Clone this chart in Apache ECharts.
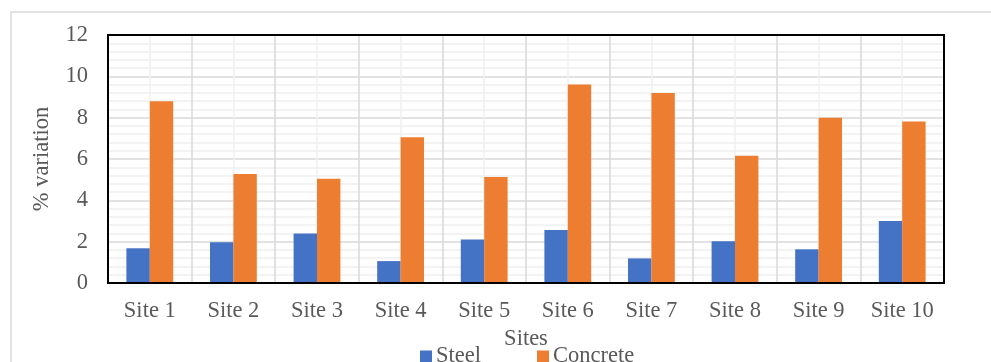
<!DOCTYPE html>
<html>
<head>
<meta charset="utf-8">
<script src="https://cdn.jsdelivr.net/npm/echarts@6/dist/echarts.min.js"></script>
<style>
  html, body { margin: 0; padding: 0; background: #fff; }
  #chart { width: 991px; height: 362px; }
</style>
</head>
<body>
<div id="chart"></div>
<script>
const sites = ['Site 1', 'Site 2', 'Site 3', 'Site 4', 'Site 5', 'Site 6', 'Site 7', 'Site 8', 'Site 9', 'Site 10'];
const steel = [1.68, 1.97, 2.39, 1.06, 2.11, 2.56, 1.19, 2.02, 1.63, 3.0];
const concrete = [8.8, 5.27, 5.05, 7.05, 5.13, 9.61, 9.19, 6.16, 8.0, 7.82];

const font = 'Liberation Serif, Times New Roman, serif';
const textColor = '#595959';
const fontSize = 22.5;

const chart = echarts.init(document.getElementById('chart'));

chart.setOption({
    backgroundColor: '#fff',
    animation: false,
    textStyle: { fontFamily: font, color: textColor },
    graphic: [{
        // outer chart frame
        type: 'rect',
        shape: { x: 11, y: 12, width: 1000, height: 400 },
        style: { fill: 'none', stroke: '#d9d9d9', lineWidth: 1.5 },
        silent: true
    }, {
        // plot area frame, drawn above the grid lines
        type: 'rect',
        z: 100,
        shape: { x: 108, y: 35, width: 836, height: 248 },
        style: { fill: 'none', stroke: '#000', lineWidth: 2 },
        silent: true
    }],
    grid: {
        left: 108, right: 47, top: 35, bottom: 79
    },
    legend: {
        left: 415, top: 340,
        icon: 'rect', itemWidth: 12, itemHeight: 12, itemGap: 56,
        textStyle: { fontFamily: font, fontSize: fontSize, color: textColor, padding: [0, 0, 0, -1] },
        data: ['Steel', 'Concrete']
    },
    xAxis: [{
        type: 'category',
        data: sites,
        name: 'Sites',
        nameLocation: 'middle',
        nameGap: 38,
        nameTextStyle: { fontFamily: font, fontSize: fontSize, color: textColor },
        axisLine: { lineStyle: { color: '#000', width: 2 } },
        axisTick: { show: false },
        axisLabel: { fontFamily: font, fontSize: fontSize, color: textColor, margin: 17 },
        splitLine: { show: false }
    }, {
        // helper axis for vertical grid lines at category edges and centres
        type: 'value',
        min: 0, max: 20, interval: 1,
        show: true,
        position: 'top',
        axisLine: { show: false },
        axisTick: { show: false },
        axisLabel: { show: false },
        splitLine: { show: true, lineStyle: { color: ['#d9d9d9', '#f0f0f0'], width: 1.5 } }
    }],
    yAxis: {
        type: 'value',
        min: 0, max: 12, interval: 2,
        name: '% variation',
        nameLocation: 'middle',
        nameGap: 54,
        nameTextStyle: { fontFamily: font, fontSize: fontSize, color: textColor },
        axisLine: { show: false },
        axisTick: { show: false },
        axisLabel: { fontFamily: font, fontSize: fontSize, color: textColor, margin: 20 },
        splitLine: { lineStyle: { color: '#d9d9d9', width: 1.5 } },
        minorTick: { show: false, splitNumber: 5 },
        minorSplitLine: { show: true, lineStyle: { color: '#f0f0f0', width: 1.5 } }
    },
    series: [{
        name: 'Steel',
        type: 'bar',
        data: steel,
        barWidth: '28%',
        barGap: '0%',
        itemStyle: { color: '#4472C4' }
    }, {
        name: 'Concrete',
        type: 'bar',
        data: concrete,
        barWidth: '28%',
        barGap: '0%',
        itemStyle: { color: '#ED7D31' }
    }]
});
</script>
</body>
</html>
